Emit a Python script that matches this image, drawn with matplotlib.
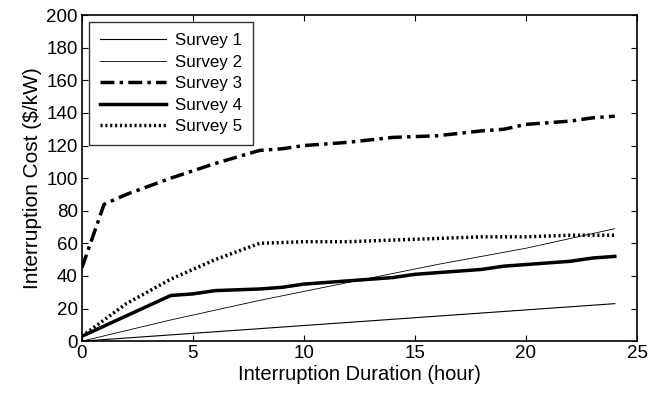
import matplotlib
matplotlib.use("Agg")
import matplotlib.pyplot as plt

plt.rcParams['font.family'] = ['Liberation Sans', 'DejaVu Sans']

x1 = [0, 24]
s1 = [0, 23]
x2 = [0, 4, 8, 12, 16, 20, 24]
s2 = [0, 13, 25, 36, 47, 57, 69]
x3 = [0, 1, 2, 4, 6, 8, 9, 10, 12, 14, 16, 18, 19, 20, 22, 23, 24]
s3 = [45, 84, 90, 100, 109, 117, 118, 120, 122, 125, 126, 129, 130, 133, 135, 137, 138]
x4 = [0, 4, 5, 6, 8, 9, 10, 12, 14, 15, 18, 19, 22, 23, 24]
s4 = [3, 28, 29, 31, 32, 33, 35, 37, 39, 41, 44, 46, 49, 51, 52]
x5 = [0, 2, 4, 6, 8, 10, 12, 14, 16, 18, 20, 22, 24]
s5 = [3, 23, 38, 50, 60, 61, 61, 62, 63, 64, 64, 65, 65]

fig = plt.figure(figsize=(6.5, 3.99), dpi=100)
ax = fig.add_axes([0.126, 0.145, 0.854, 0.817])

ax.plot(x1, s1, color='black', lw=0.8, label='Survey 1')
ax.plot(x2, s2, color='black', lw=0.6, label='Survey 2')
ax.plot(x3, s3, color='black', lw=2.5, linestyle=(0, (4, 1.5, 1, 1.5)), label='Survey 3')
ax.plot(x4, s4, color='black', lw=2.5, label='Survey 4')
ax.plot(x5, s5, color='black', lw=2.5, linestyle=(0, (0.6, 0.8)), label='Survey 5')

ax.set_xlim(0, 25)
ax.set_ylim(0, 200)
ax.set_xticks(range(0, 26, 5))
ax.set_yticks(range(0, 201, 20))
ax.tick_params(direction='in', top=True, right=True, labelsize=13.5, length=4, pad=3)
for sp in ax.spines.values():
    sp.set_linewidth(1.2)
ax.set_xlabel('Interruption Duration (hour)', fontsize=14.5, labelpad=2)
ax.set_ylabel('Interruption Cost ($/kW)', fontsize=15, labelpad=3)

leg = ax.legend(loc='upper left', fontsize=12.2, frameon=True, fancybox=False,
                edgecolor='black', handlelength=3.9, handletextpad=0.5,
                borderpad=0.65, labelspacing=0.38, borderaxespad=0.0,
                bbox_to_anchor=(0.013, 0.978))
leg.get_frame().set_linewidth(1.0)

fig.savefig('out.png', dpi=100)
